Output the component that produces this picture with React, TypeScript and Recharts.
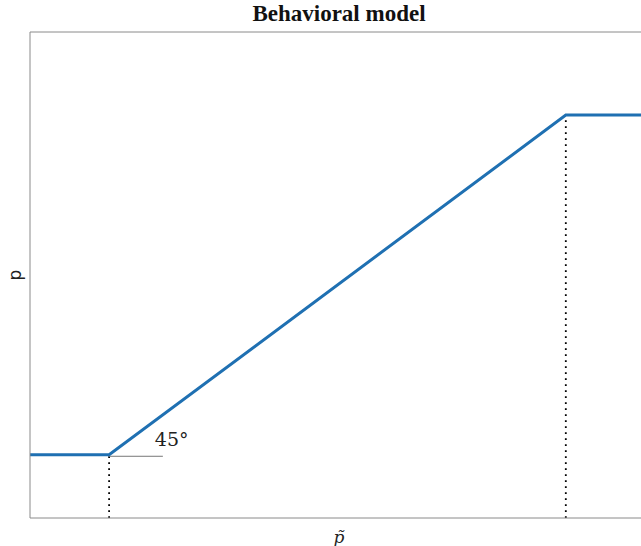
import React from "react";
import { LineChart, Line, XAxis, YAxis, ReferenceLine, ReferenceDot, Label } from "recharts";

// perceived price vs. set price, piecewise linear
const pTilde = [0, 0.128, 0.867, 1];
const pValues = [0.13, 0.13, 0.829, 0.829];

const lowKink = { x: 0.128, y: 0.13 };
const highKink = { x: 0.867, y: 0.829 };
const angleMarkEnd = 0.215;
const angleText = "45°";

const AXIS_GRAY = "#8a8a8a";
const LINE_BLUE = "#1f70b2";

const data = pTilde.map((x, i) => ({ x, p: pValues[i] }));

const AngleLabel = ({ viewBox }: any) => (
  <text
    x={viewBox.x + 1}
    y={viewBox.y - 8}
    fontFamily="'DejaVu Serif', 'Liberation Serif', serif"
    fontSize={19}
    fill="#222"
  >
    {angleText}
  </text>
);

export default function App() {
  return (
    <div
      style={{
        position: "fixed",
        left: 0,
        top: 0,
        width: 641,
        height: 546,
        overflow: "hidden",
        background: "#fff",
      }}
    >
      <div
        style={{
          position: "absolute",
          left: 0,
          top: 1,
          width: 678,
          textAlign: "center",
          fontFamily: "'Liberation Serif', serif",
          fontWeight: "bold",
          fontSize: 23,
          lineHeight: "26px",
          color: "#111",
        }}
      >
        Behavioral model
      </div>
      <LineChart
        width={648}
        height={546}
        data={data}
        margin={{ top: 32, right: 0, bottom: 0, left: 0 }}
      >
        <XAxis
          dataKey="x"
          type="number"
          domain={[0, 1]}
          tick={false}
          tickLine={false}
          height={28}
          axisLine={{ stroke: AXIS_GRAY }}
        >
          <Label
            value={"p\u0303"}
            position="center"
            dy={5}
            style={{
              fontFamily: "'DejaVu Serif', 'Liberation Serif', serif",
              fontStyle: "italic",
              fontSize: 17,
              fill: "#222",
            }}
          />
        </XAxis>
        <YAxis
          type="number"
          domain={[0, 1]}
          tick={false}
          tickLine={false}
          width={30}
          axisLine={{ stroke: AXIS_GRAY }}
        >
          <Label
            value="p"
            angle={-90}
            position="center"
            style={{
              fontFamily: "'DejaVu Sans', Arial, sans-serif",
              fontSize: 17,
              fill: "#222",
            }}
          />
        </YAxis>
        <ReferenceLine y={1} stroke={AXIS_GRAY} />
        <ReferenceLine
          segment={[
            { x: lowKink.x, y: 0 },
            { x: lowKink.x, y: lowKink.y },
          ]}
          stroke="#000"
          strokeWidth={1.8}
          strokeDasharray="1.8 4.2"
        />
        <ReferenceLine
          segment={[
            { x: highKink.x, y: 0 },
            { x: highKink.x, y: highKink.y },
          ]}
          stroke="#000"
          strokeWidth={1.8}
          strokeDasharray="1.8 4.2"
        />
        <ReferenceLine
          segment={[
            { x: lowKink.x, y: lowKink.y - 0.003 },
            { x: angleMarkEnd, y: lowKink.y - 0.003 },
          ]}
          stroke="#777"
          strokeWidth={1}
        />
        <ReferenceDot
          x={0.202}
          y={lowKink.y}
          r={1}
          fill="none"
          stroke="none"
          label={<AngleLabel />}
        />
        <Line
          type="linear"
          dataKey="p"
          stroke={LINE_BLUE}
          strokeWidth={3}
          dot={false}
          isAnimationActive={false}
        />
      </LineChart>
    </div>
  );
}
